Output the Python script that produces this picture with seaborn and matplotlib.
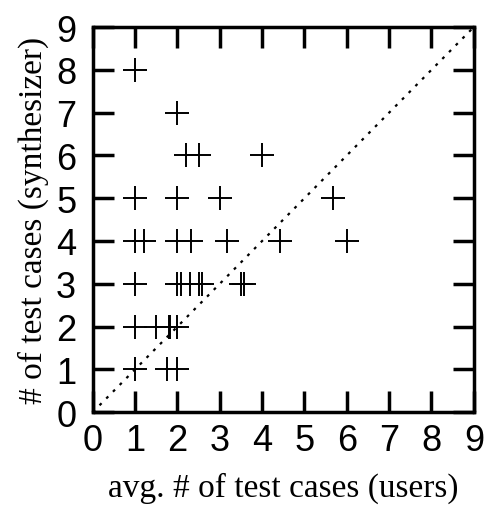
import matplotlib
matplotlib.use("Agg")
import matplotlib.pyplot as plt
import seaborn as sns
import pandas as pd

# average number of test cases written by users vs. number produced by the synthesizer
users_avg = [1.0,
             2.0,
             2.2, 2.5, 4.0,
             1.0, 2.0, 3.0, 5.67,
             1.0, 1.2, 2.0, 2.33, 3.17, 4.43, 6.0,
             1.0, 2.0, 2.08, 2.3, 2.5, 2.58, 3.5, 3.58,
             1.0, 1.5, 1.8, 1.83, 2.0,
             1.0, 1.75, 2.0]
synth = [8,
         7,
         6, 6, 6,
         5, 5, 5, 5,
         4, 4, 4, 4, 4, 4, 4,
         3, 3, 3, 3, 3, 3, 3, 3,
         2, 2, 2, 2, 2,
         1, 1, 1]
ticks = list(range(0, 10))

df = pd.DataFrame({"users": users_avg, "synth": synth})

sns.set_theme(style="ticks")
plt.rcParams["font.family"] = ["Liberation Sans", "DejaVu Sans"]
plt.rcParams["text.color"] = "black"
plt.rcParams["axes.labelcolor"] = "black"

fig = plt.figure(figsize=(4.91, 5.10), dpi=100)
ax = fig.add_axes([0.189, 0.190, 0.776, 0.755])

sns.scatterplot(data=df, x="users", y="synth", marker="+", s=300,
                color="black", linewidth=1.4, ax=ax, zorder=3)
ax.axline((0, 0), slope=1, color="black", linestyle=(0, (1.3, 3.0)),
          linewidth=1.6, zorder=2)

ax.set_xlim(0, 9)
ax.set_ylim(0, 9)
ax.set_xticks(ticks)
ax.set_yticks(ticks)
ax.set_xticklabels([str(t) for t in ticks])
ax.set_yticklabels([str(t) for t in ticks])

for side in ["left", "right", "top", "bottom"]:
    ax.spines[side].set_visible(True)
    ax.spines[side].set_linewidth(2.5)
    ax.spines[side].set_color("black")

ax.tick_params(axis="both", direction="in", length=15, width=2.5,
               top=True, right=True, labelsize=26, colors="black")
ax.tick_params(axis="x", pad=8)
ax.tick_params(axis="y", pad=12)

ax.set_xlabel("avg. # of test cases (users)", family="Liberation Serif",
              fontsize=24, labelpad=10, color="black")
ax.set_ylabel("# of test cases (synthesizer)", family="Liberation Serif",
              fontsize=24, labelpad=5, color="black")

fig.savefig("out.png", dpi=100)
